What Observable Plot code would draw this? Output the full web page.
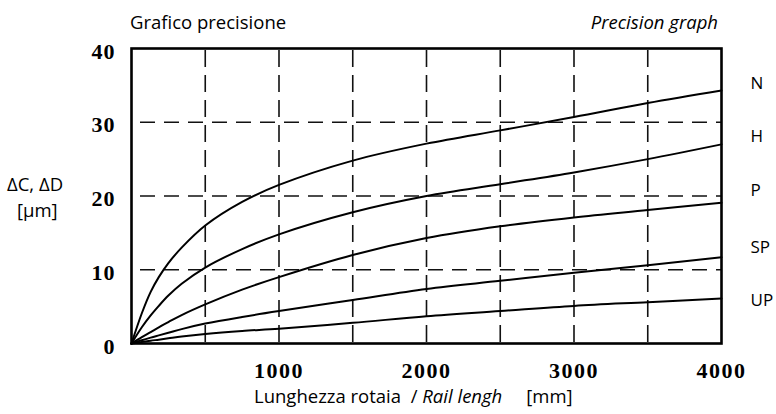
<!DOCTYPE html>
<html><head><meta charset="utf-8">
<script src="https://cdn.jsdelivr.net/npm/d3@7"></script>
<script src="https://cdn.jsdelivr.net/npm/@observablehq/plot@0.6"></script>
<style>
body{margin:0;background:#fff;}
#wrap{position:relative;width:776px;height:414px;overflow:hidden;font-family:"Open Sans",sans-serif;color:#000;background:#fff;}
#chart{position:absolute;left:0;top:0;}
.lbl{position:absolute;white-space:pre;line-height:1;}
#chart g[aria-label="x-axis tick label"] text{letter-spacing:1.5px;}
#chart g[aria-label="y-axis tick label"] text{letter-spacing:1px;}
</style></head><body>
<div id="wrap">
<div id="chart"></div>
<div class="lbl" style="left:130px;top:13px;font-size:18.5px">Grafico precisione</div>
<div class="lbl" style="right:58px;top:13px;font-size:18.5px;font-style:italic">Precision graph</div>
<div class="lbl" style="left:7px;top:175px;font-size:18.5px">ΔC, ΔD</div>
<div class="lbl" style="left:17px;top:201px;font-size:18.5px">[μm]</div>
<div class="lbl" style="left:254px;top:387px;font-size:18.5px">Lunghezza rotaia  / <i>Rail lengh</i>     [mm]</div>
</div>
<script>
// Rail length [mm]
const xs = [0, 70, 130, 185, 250, 340, 500, 750, 1000, 1500, 2000, 2500, 3000, 3500, 4000];
// Precision ΔC, ΔD [μm] per class
const seriesN  = [0, 4.1, 7.0, 9.0, 10.9, 13.0, 16.0, 19.2, 21.5, 24.8, 27.1, 28.9, 30.7, 32.6, 34.3];
const seriesH  = [0, 2.2, 3.8, 5.1, 6.5, 8.1, 10.3, 12.8, 14.8, 17.8, 20.0, 21.6, 23.2, 25.0, 27.0];
const seriesP  = [0, 0.85, 1.55, 2.2, 2.9, 3.85, 5.3, 7.3, 9.0, 12.0, 14.3, 15.9, 17.1, 18.1, 19.1];
const seriesSP = [0, 0.45, 0.8, 1.1, 1.45, 1.95, 2.7, 3.6, 4.4, 5.9, 7.4, 8.5, 9.6, 10.6, 11.7];
const seriesUP = [0, 0.2, 0.38, 0.52, 0.7, 0.95, 1.3, 1.7, 2.0, 2.8, 3.7, 4.4, 5.1, 5.6, 6.1];
const seriesNames = ["N", "H", "P", "SP", "UP"];
const labelValues = [35.2, 28.0, 20.8, 13.0, 5.8];
const xTickLabels = [1000, 2000, 3000, 4000];
const yTickLabels = [0, 10, 20, 30, 40];
const xGrid = [500, 1000, 1500, 2000, 2500, 3000, 3500];
const yGrid = [10, 20, 30];

const seriesValues = [seriesN, seriesH, seriesP, seriesSP, seriesUP];
const table = seriesNames.flatMap((s, i) => xs.map((x, j) => ({s, x, v: seriesValues[i][j]})));
const labels = seriesNames.map((s, i) => ({s, x: xs[xs.length - 1], v: labelValues[i]}));

const serif = "'Liberation Serif', 'Times New Roman', serif";
const chart = Plot.plot({
  width: 776,
  height: 414,
  marginLeft: 131,
  marginRight: 55,
  marginTop: 48,
  marginBottom: 71,
  style: {background: "#fff", color: "#000", overflow: "visible"},
  x: {domain: [0, 4000]},
  y: {domain: [0, 40]},
  marks: [
    Plot.ruleX(xGrid, {stroke: "#111", strokeWidth: 1.6, strokeDasharray: "17,8", strokeDashoffset: -2}),
    Plot.ruleY(yGrid, {stroke: "#111", strokeWidth: 1.6, strokeDasharray: "15,9", strokeDashoffset: 15}),
    Plot.line(table, {x: "x", y: "v", z: "s", stroke: "#000", strokeWidth: 2, curve: "catmull-rom"}),
    Plot.frame({stroke: "#000", strokeWidth: 2.6}),
    Plot.axisX(xTickLabels, {tickSize: 0, tickPadding: 19, label: null, tickFormat: d => String(d), fontSize: 22, fontWeight: "bold", fontFamily: serif}),
    Plot.axisY(yTickLabels, {tickSize: 0, tickPadding: 16, label: null, tickFormat: d => String(d), fontSize: 22, fontWeight: "bold", fontFamily: serif, dy: 3}),
    Plot.text(labels, {x: "x", y: "v", text: "s", dx: 29, textAnchor: "start", fontSize: 17, fontFamily: "'Open Sans', sans-serif", fill: "#000"})
  ]
});
document.getElementById("chart").appendChild(chart);
</script>
</body></html>
